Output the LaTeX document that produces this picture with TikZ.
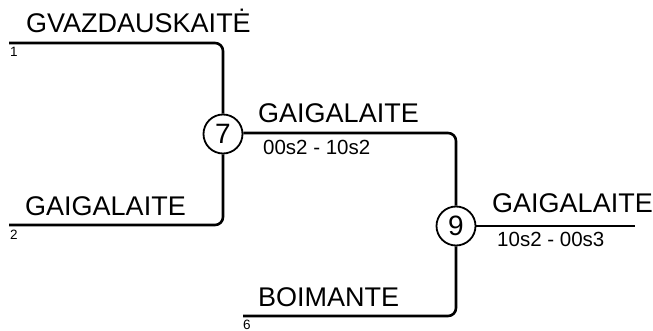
\documentclass[tikz,border=0pt]{standalone}
\usepackage{fontspec}
\setmainfont{Liberation Sans}
\begin{document}
\begin{tikzpicture}[x=1pt,y=-1pt,
  match/.style={circle, draw, line width=1.8pt, minimum size=39pt, inner sep=0pt, font=\fontsize{28}{32}\selectfont},
  player/.style={anchor=base west, inner sep=0pt, font=\fontsize{27}{31}\selectfont},
  score/.style={anchor=base west, inner sep=0pt, font=\fontsize{20.5}{23}\selectfont},
  seed/.style={anchor=base west, inner sep=0pt, font=\fontsize{13.5}{15}\selectfont},
  wire/.style={line width=2.6pt, rounded corners=8pt}]
\useasboundingbox (0,0) rectangle (653,331);
\node[match] (c7) at (223,134) {7};
\node[match] (c9) at (456,226) {9};
\coordinate (e1) at (9,43);
\coordinate (e2) at (9,225);
\coordinate (e6) at (243,316);
\coordinate (e9) at (635,226);
\draw[wire] (e1) -| (c7.north);
\draw[wire] (e2) -| (c7.south);
\draw[wire] ([yshift=1pt]c7.east) -| (c9.north);
\draw[wire] (e6) -| (c9.south);
\draw[wire] (c9.east) -- (e9);
\node[player] (n1) at (26,33) {GVAZDAUSKAITĖ};
\node[seed] (s1) at (10,57) {1};
\node[player] (n2) at (25,215) {GAIGALAITE};
\node[seed] (s2) at (10,240) {2};
\node[player] (n7) at (258,123) {GAIGALAITE};
\node[score] (r7) at (263,155) {00s2 - 10s2};
\node[player] (n9) at (492,212) {GAIGALAITE};
\node[score] (r9) at (497,246) {10s2 - 00s3};
\node[player] (n6) at (258,306) {BOIMANTE};
\node[seed] (s6) at (243,329.5) {6};
\end{tikzpicture}
\end{document}
